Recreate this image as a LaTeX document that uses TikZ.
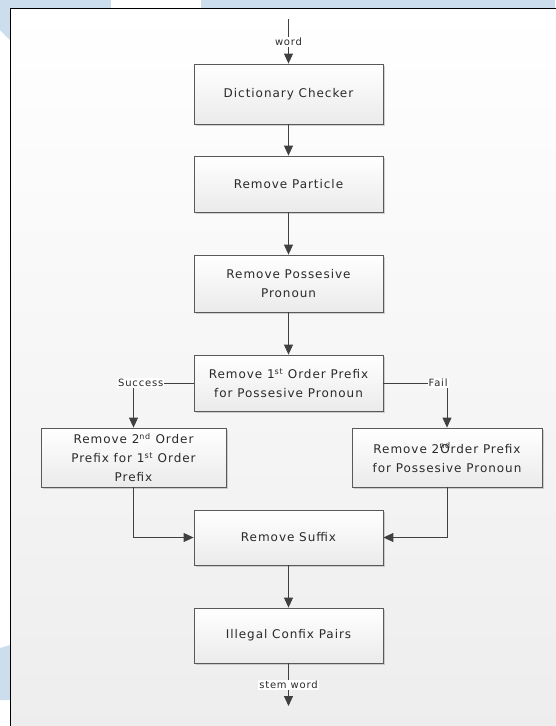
\documentclass[tikz,border=0pt]{standalone}
\usepackage{fontspec}
\setmainfont{DejaVu Sans}[LetterSpace=8.0]
\usetikzlibrary{arrows.meta,shadows}
\definecolor{bgblue}{HTML}{CCDDEE}
\definecolor{ln}{HTML}{404040}
\definecolor{txt}{HTML}{2A2A2A}
\begin{document}
\begin{tikzpicture}[x=1pt,y=-1pt,
  stepbox/.style={draw=black!65, line width=0.8pt, top color=white, bottom color=black!8,
    minimum width=189pt, minimum height=56pt, align=center,
    font=\fontsize{12}{19}\selectfont, text=txt, inner sep=2pt,
    drop shadow={shadow xshift=2pt, shadow yshift=-2pt, fill=black!35, opacity=0.5}},
  lbl/.style={fill=white, inner sep=1pt, font=\fontsize{10}{12}\selectfont, text=txt},
  conn/.style={draw=ln, line width=0.9pt, -{Triangle[length=10pt,width=9pt]}},
  plain/.style={draw=ln, line width=0.9pt}]
\useasboundingbox (0,0) rectangle (555,726);
% background decoration
\fill[bgblue] (0,0) rectangle (111,8);
\fill[bgblue] (201,0) rectangle (555,8);
\fill[bgblue] (0,0) -- (10,0) -- (10,40) -- (0,30) -- cycle;
\fill[bgblue] (0,648) -- (10,645) -- (10,700) -- (0,700) -- cycle;
% frame
\fill[top color=white,bottom color=black!7] (10.5,8.5) rectangle (560,730);
\draw[black, line width=1.5pt] (10.5,730) -- (10.5,8.5) -- (560,8.5);
% nodes
\node[stepbox, minimum height=60pt] (b1) at (288.5,94) {Dictionary Checker};
\node[stepbox] (b2) at (288.5,184) {Remove Particle};
\node[stepbox, minimum height=57pt] (b3) at (288.5,283.5) {Remove Possesive\\Pronoun};
\node[stepbox] (b4) at (288.5,383) {Remove 1\textsuperscript{st} Order Prefix\\for Possesive Pronoun};
\node[stepbox, minimum width=185pt, minimum height=59pt] (l) at (133.5,457.5)
  {Remove 2\textsuperscript{nd} Order\\Prefix for 1\textsuperscript{st} Order\\Prefix};
\node[stepbox, minimum width=190pt, minimum height=59pt] (r) at (447,457.5)
  {Remove 2\rlap{\textsuperscript{nd}}\hspace{1pt}Order Prefix\\for Possesive Pronoun};
\node[stepbox, minimum height=55pt] (b5) at (288.5,537.5) {Remove Suffix};
\node[stepbox, minimum height=55pt] (b6) at (288.5,635.5) {Illegal Confix Pairs};
\coordinate (in) at (288.5,19);
\coordinate (out) at (288.5,706);
% connectors
\draw[conn] (in) -- node[lbl, pos=0.51] {word} (b1.north);
\draw[conn] (b1) -- (b2);
\draw[conn] (b2) -- (b3);
\draw[conn] (b3) -- (b4);
\draw[conn] (b4.west) -| node[lbl, pos=0.44] {Success} (l.north);
\draw[conn] (b4.east) -| node[lbl, pos=0.43] {Fail} (r.north);
\draw[conn] (l.south) |- (b5.west);
\draw[conn] (r.south) |- (b5.east);
\draw[conn] (b5) -- (b6);
\draw[conn] (b6.south) -- node[lbl, pos=0.51] {stem word} (out);
\end{tikzpicture}
\end{document}
